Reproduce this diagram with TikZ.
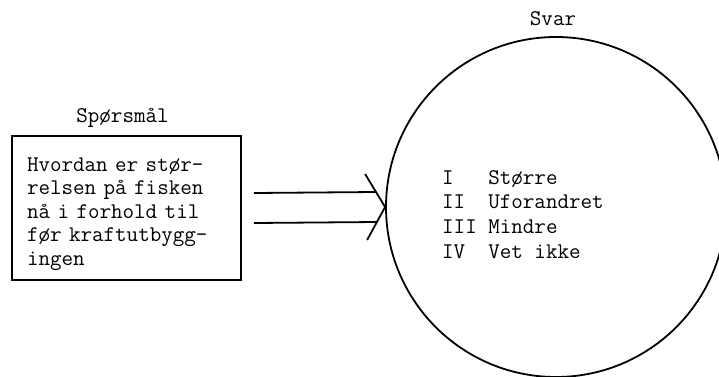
\documentclass[tikz,border=0pt]{standalone}
\usepackage{fontspec}
\usetikzlibrary{positioning}
\tikzset{every picture/.style={/utils/exec={\ttfamily}}}

\begin{document}
\begin{tikzpicture}[x=1pt, y=1pt,
		every node/.style={font=\fontsize{22.4}{23.5}\selectfont, align=left},
		framed/.style={draw, line width=1.8pt, rectangle, minimum width=229pt, minimum height=144pt, text width=199pt, inner xsep=15pt},
		header/.style={inner sep=0pt},
		thickline/.style={line width=1.8pt}
	]
	\useasboundingbox (0,0) rectangle (719,376);

	\node (question) [framed] at (126.5,168) {\rule{0pt}{26pt}Hvordan er stør-\\relsen på fisken\\nå i forhold til\\før kraftutbygg-\\ingen};
	\node (questionLabel) [header, above=7pt of question, xshift=-4pt] {Spørsmål};

	\node (answer) [circle, draw, thickline, minimum size=340pt, inner sep=0pt] at (556,169) {};
	\node (answerLabel) [header, above=10pt of answer, xshift=-3pt] {Svar};
	\node (choices) [header, anchor=north west, font=\fontsize{22.4}{24.7}\selectfont] at ([shift={(-114,37)}]answer.center) {I~~~Større\\II~~Uforandret\\III Mindre\\IV~~Vet ikke};

	\coordinate (tip) at (answer.west);
	\coordinate (tipUp) at ([shift={(-20,33)}]tip);
	\coordinate (tipDown) at ([shift={(-18,-33)}]tip);

	\draw[thickline] ([shift={(12,15)}]question.east) -- ([shift={(-9,15)}]tip);
	\draw[thickline] ([shift={(12,-15)}]question.east) -- ([shift={(-8,-15)}]tip);
	\draw[thickline] (tipUp) -- (tip) -- (tipDown);
\end{tikzpicture}
\end{document}
